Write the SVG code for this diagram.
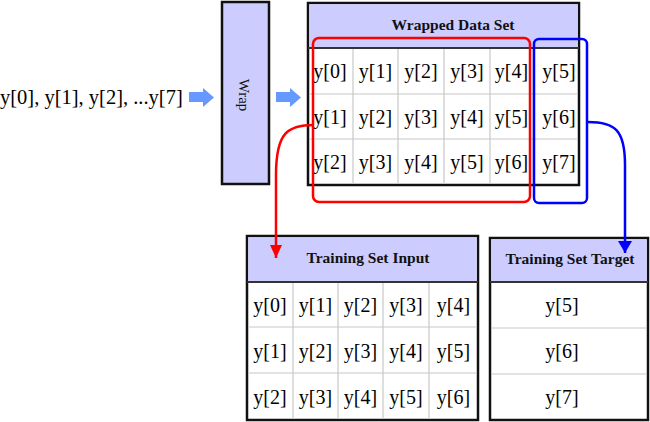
<svg xmlns="http://www.w3.org/2000/svg" width="650" height="422" viewBox="0 0 650 422">
<style>
.t{font-family:"Liberation Serif","Times New Roman",serif;font-size:20px;fill:#000;text-anchor:middle}
.h{font-family:"Liberation Serif","Times New Roman",serif;font-size:15.5px;font-weight:bold;fill:#111;text-anchor:middle}
.frame{fill:#fff;stroke:#111;stroke-width:2.5}
.hdr{fill:#ccccff;stroke:none}
.sep{stroke:#333;stroke-width:2}
.grid{stroke:#c8c8c8;stroke-width:1.2;fill:none}
.barrow{fill:#6699ff}
</style>
<defs>
<marker id="ar" viewBox="0 0 13 12" refX="13" refY="6" markerWidth="13" markerHeight="12" markerUnits="userSpaceOnUse" orient="auto"><path d="M0,0 L13,6 L0,12 Z" fill="#ff0000"/></marker>
<marker id="ab" viewBox="0 0 12 14" refX="12" refY="7" markerWidth="12" markerHeight="14" markerUnits="userSpaceOnUse" orient="auto"><path d="M0,0 L12,7 L0,14 Z" fill="#0000ff"/></marker>
</defs>

<g id="input-text">
<text class="t" x="0" y="104" style="text-anchor:start;font-size:20.5px">y[0], y[1], y[2], ...y[7]</text>
</g>

<g id="arrow1"><path class="barrow" d="M189,92 L203,92 L203,88 L214,97.5 L203,107 L203,102 L189,102 Z"/></g>

<g id="wrap">
<rect x="222" y="2" width="47" height="182" fill="#ccccff" stroke="#111" stroke-width="2.5"/>
<text class="h" style="font-weight:normal;font-size:15px" transform="translate(239,95) rotate(90)" x="0" y="0">Wrap</text>
</g>

<g id="arrow2"><path class="barrow" d="M276,92 L290,92 L290,88 L301,97.5 L290,107 L290,102 L276,102 Z"/></g>

<g id="wrapped-data-set">
<rect class="frame" x="308" y="3" width="271" height="182"/>
<rect class="hdr" x="309.25" y="4.25" width="268.5" height="43.75"/>
<line class="sep" x1="308" y1="48" x2="579" y2="48"/>
<text class="h" x="453" y="30">Wrapped Data Set</text>
<path class="grid" d="M353,49V184M398,49V184M444,49V184M490,49V184M533,49V184M309,94H578M309,139H578"/>
<text class="t" x="330" y="78">y[0]</text><text class="t" x="375.5" y="78">y[1]</text><text class="t" x="421" y="78">y[2]</text><text class="t" x="467" y="78">y[3]</text><text class="t" x="511.5" y="78">y[4]</text><text class="t" x="559" y="78">y[5]</text>
<text class="t" x="330" y="124">y[1]</text><text class="t" x="375.5" y="124">y[2]</text><text class="t" x="421" y="124">y[3]</text><text class="t" x="467" y="124">y[4]</text><text class="t" x="511.5" y="124">y[5]</text><text class="t" x="559" y="124">y[6]</text>
<text class="t" x="330" y="169">y[2]</text><text class="t" x="375.5" y="169">y[3]</text><text class="t" x="421" y="169">y[4]</text><text class="t" x="467" y="169">y[5]</text><text class="t" x="511.5" y="169">y[6]</text><text class="t" x="559" y="169">y[7]</text>
</g>

<g id="input-window"><rect x="313" y="38" width="217" height="164" rx="6" fill="none" stroke="#ff0000" stroke-width="2.5"/></g>
<g id="target-window"><rect x="534" y="39" width="53" height="164" rx="5" fill="none" stroke="#0000ff" stroke-width="2.5"/></g>

<g id="training-set-input">
<rect class="frame" x="247" y="236" width="231" height="184"/>
<rect class="hdr" x="248.25" y="237.25" width="228.5" height="44.75"/>
<line class="sep" x1="247" y1="282" x2="478" y2="282"/>
<text class="h" x="368" y="263">Training Set Input</text>
<path class="grid" d="M293,283V419M338,283V419M383,283V419M429,283V419M248,327H477M248,373H477"/>
<text class="t" x="270" y="312">y[0]</text><text class="t" x="315.5" y="312">y[1]</text><text class="t" x="360.5" y="312">y[2]</text><text class="t" x="406" y="312">y[3]</text><text class="t" x="453.5" y="312">y[4]</text>
<text class="t" x="270" y="358">y[1]</text><text class="t" x="315.5" y="358">y[2]</text><text class="t" x="360.5" y="358">y[3]</text><text class="t" x="406" y="358">y[4]</text><text class="t" x="453.5" y="358">y[5]</text>
<text class="t" x="270" y="404">y[2]</text><text class="t" x="315.5" y="404">y[3]</text><text class="t" x="360.5" y="404">y[4]</text><text class="t" x="406" y="404">y[5]</text><text class="t" x="453.5" y="404">y[6]</text>
</g>

<g id="training-set-target">
<rect class="frame" x="490" y="238" width="158" height="182"/>
<rect class="hdr" x="491.25" y="239.25" width="155.5" height="42.75"/>
<line class="sep" x1="490" y1="282" x2="648" y2="282"/>
<text class="h" x="570" y="264">Training Set Target</text>
<path class="grid" d="M491,328H647M491,374H647"/>
<text class="t" x="562" y="312">y[5]</text>
<text class="t" x="562" y="358">y[6]</text>
<text class="t" x="562" y="404">y[7]</text>
</g>

<g id="connectors">
<path d="M314,125 C288,125 276,132 276,175 L276,258" fill="none" stroke="#ff0000" stroke-width="2.5" marker-end="url(#ar)"/>
<path d="M588,122 C615,122 625,130 625,165 L625,253" fill="none" stroke="#0000ff" stroke-width="2.5" marker-end="url(#ab)"/>
</g>
</svg>
